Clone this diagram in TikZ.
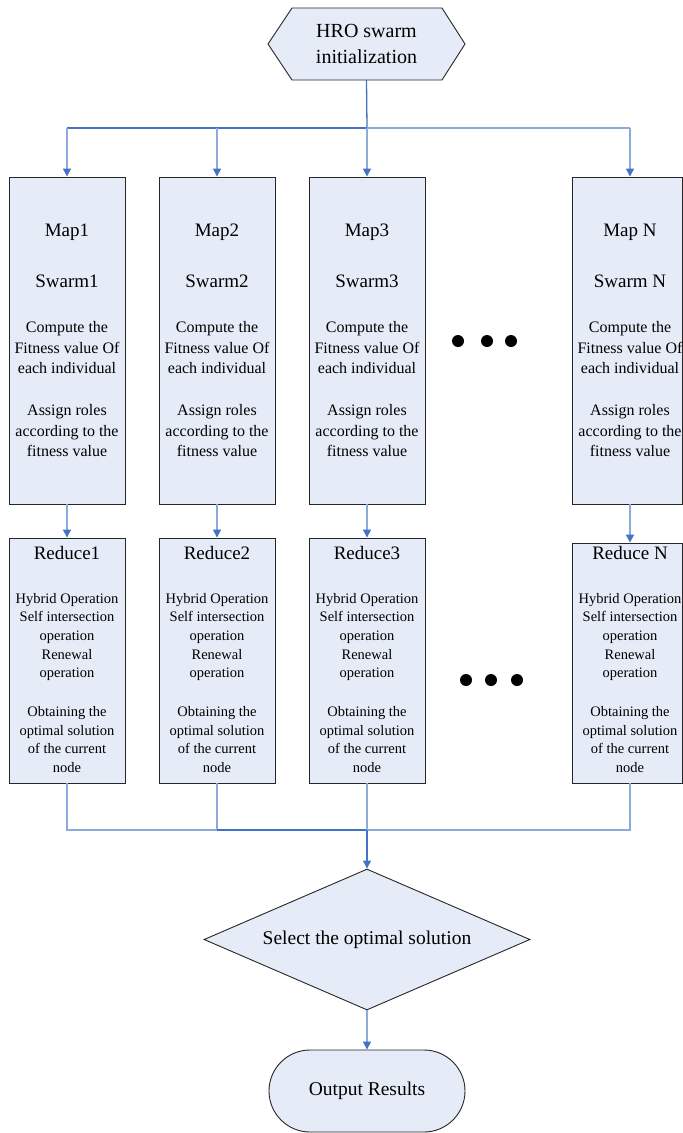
\documentclass[tikz,border=0pt]{standalone}
\usepackage{fontspec}
\setmainfont{Liberation Serif}
\usetikzlibrary{arrows.meta,shapes.geometric}
\definecolor{boxfill}{HTML}{E6ECF7}
\definecolor{darkln}{HTML}{4472C4}
\definecolor{lightln}{HTML}{8EAADB}
\newcommand{\mapcol}[4]{%
  \node[big] (#1a) at (#2,-232) {#3};
  \node[big] (#1b) at (#2,-281) {#4};
  \node[small] (#1c) at (#2,-348) {Compute the\\Fitness value Of\\each individual};
  \node[small] (#1d) at (#2,-431) {Assign roles\\according to the\\fitness value};
}
\newcommand{\redcol}[3]{%
  \node[big] (#1a) at (#2,-553) {#3};
  \node[tiny] (#1b) at (#2,-637) {Hybrid Operation\\Self intersection\\operation\\Renewal\\operation};
  \node[tiny] (#1c) at (#2,-739.5) {Obtaining the\\optimal solution\\of the current\\node};
}
\begin{document}
\begin{tikzpicture}[x=1pt,y=1pt,
  box/.style={draw=black!85, line width=0.9pt, fill=boxfill, inner sep=0},
  big/.style={font=\fontsize{19}{23}\selectfont, inner sep=0},
  small/.style={font=\fontsize{16}{20.5}\selectfont, align=center, inner sep=0},
  tiny/.style={font=\fontsize{14.5}{18.6}\selectfont, align=center, inner sep=0},
  dk/.style={draw=darkln, line width=1.3pt},
  lt/.style={draw=lightln, line width=1.3pt},
  arr/.style={-{Triangle[width=8pt,length=8pt,fill=darkln,color=darkln]}},
  dot/.style={circle, fill=black, inner sep=0, minimum size=12pt}]
\useasboundingbox (0,0) rectangle (683,-1133);

% start hexagon
\filldraw[draw=black!85, fill=boxfill, line width=0.9pt]
  (268,-44) -- (292,-8) -- (442,-8) -- (465,-44) -- (442,-80) -- (292,-80) -- cycle;
\node[font=\fontsize{20}{26}\selectfont, align=center, minimum height=72pt, inner sep=0]
  (hex) at (366.5,-44) {HRO swarm\\initialization};

\coordinate (ja) at (367,-128);
\coordinate (jb) at (367,-830);

% map boxes
\node[box, minimum width=116pt, minimum height=327pt] (m1) at (67,-340.5) {};
\node[box, minimum width=116pt, minimum height=327pt] (m2) at (217,-340.5) {};
\node[box, minimum width=116pt, minimum height=327pt] (m3) at (367,-340.5) {};
\node[box, minimum width=110.5pt, minimum height=327pt] (mN) at (627.25,-340.5) {};

\mapcol{m1}{67}{Map1}{Swarm1}
\mapcol{m2}{217}{Map2}{Swarm2}
\mapcol{m3}{367}{Map3}{Swarm3}
\mapcol{mN}{630}{Map N}{Swarm N}

% reduce boxes
\node[box, minimum width=116pt, minimum height=245pt] (r1) at (67,-660.5) {};
\node[box, minimum width=116pt, minimum height=245pt] (r2) at (217,-660.5) {};
\node[box, minimum width=116pt, minimum height=245pt] (r3) at (367,-660.5) {};
\node[box, minimum width=110.5pt, minimum height=240pt] (rN) at (627.25,-663) {};

\redcol{r1}{67}{Reduce1}
\redcol{r2}{217}{Reduce2}
\redcol{r3}{367}{Reduce3}
\redcol{rN}{630}{Reduce N}

% ellipsis dots
\node[dot] (d1) at (458,-341) {};
\node[dot] (d2) at (487,-341) {};
\node[dot] (d3) at (511,-341) {};
\node[dot] (d4) at (466,-680) {};
\node[dot] (d5) at (491,-680) {};
\node[dot] (d6) at (517,-680) {};

% decision and terminal
\node[diamond, draw=black!85, fill=boxfill, line width=0.9pt, minimum width=326pt,
  minimum height=141pt, aspect=2.31, inner sep=0, font=\fontsize{19.5}{23}\selectfont]
  (sel) at (367,-939.5) {Select the optimal solution};
\node[draw=black!85, fill=boxfill, line width=0.9pt, rounded corners=41pt,
  minimum width=196pt, minimum height=82pt, inner sep=0, font=\fontsize{19.5}{23}\selectfont]
  (out) at (367,-1091) {Output Results};

% connectors: top distribution
\draw[dk] (hex.south) -- (ja);
\draw[dk] (ja) -- (ja -| m1a);
\draw[lt] (ja) -- (ja -| mNa);
\draw[lt,arr] (ja -| m1a) -- (m1.north);
\draw[lt,arr] (ja -| m2a) -- (m2.north);
\draw[lt,arr] (ja) -- (m3.north);
\draw[lt,arr] (ja -| mNa) -- (mN.north -| mNa);

% map -> reduce
\draw[lt,arr] (m1.south) -- (r1.north);
\draw[lt,arr] (m2.south) -- (r2.north);
\draw[lt,arr] (m3.south) -- (r3.north);
\draw[lt,arr] (mN.south -| mNa) -- (rN.north -| mNa);

% collection
\draw[lt] (r1.south) |- (jb -| r2a);
\draw[lt] (r2.south) -- (r2.south |- jb);
\draw[dk] (jb -| r2a) -- (jb);
\draw[lt] (r3.south) -- (jb);
\draw[lt] (rN.south -| rNa) |- (jb);
\draw[dk,arr] (jb) -- (sel.north);
\draw[lt,arr] (sel.south) -- (out.north);
\end{tikzpicture}
\end{document}
